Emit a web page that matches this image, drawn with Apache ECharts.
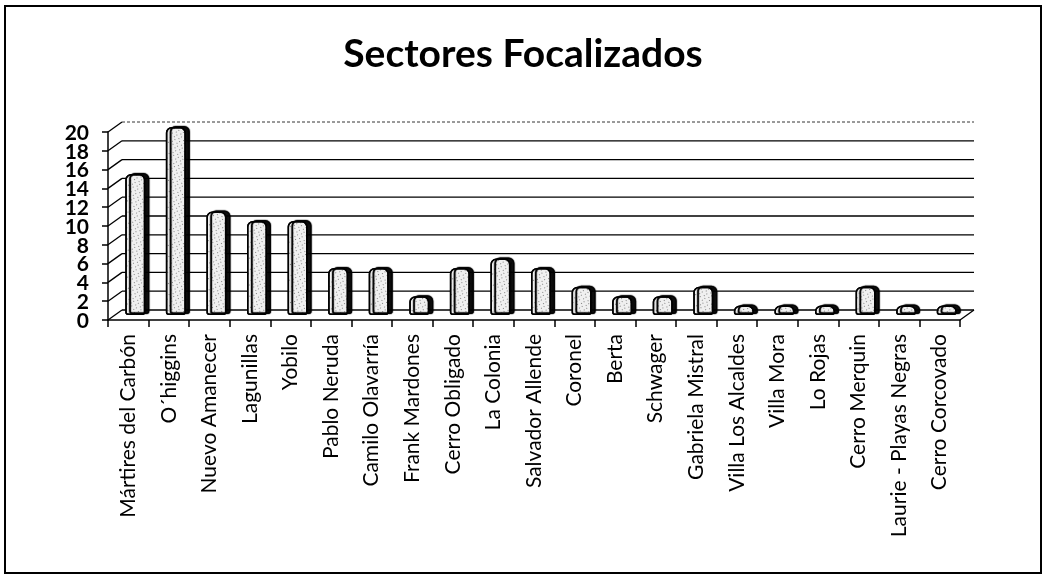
<!DOCTYPE html>
<html>
<head>
<meta charset="utf-8">
<script src="https://cdn.jsdelivr.net/npm/echarts@6/dist/echarts.min.js"></script>
<style>
  html, body { margin: 0; padding: 0; background: #ffffff; }
  #chart { width: 1046px; height: 575px; }
</style>
</head>
<body>
<div id="chart"></div>
<script>
const titleText = 'Sectores Focalizados';
const categories = [
  'Mártires del Carbón', 'O´higgins', 'Nuevo Amanecer', 'Lagunillas', 'Yobilo',
  'Pablo Neruda', 'Camilo Olavarría', 'Frank Mardones', 'Cerro Obligado', 'La Colonia',
  'Salvador Allende', 'Coronel', 'Berta', 'Schwager', 'Gabriela Mistral',
  'Villa Los Alcaldes', 'Villa Mora', 'Lo Rojas', 'Cerro Merquin', 'Laurie - Playas Negras',
  'Cerro Corcovado'
];
const values = [15, 20, 11, 10, 10, 5, 5, 2, 5, 6, 5, 3, 2, 2, 3, 1, 1, 1, 3, 1, 1];
const yTicks = [0, 2, 4, 6, 8, 10, 12, 14, 16, 18, 20];

const DX = 14, DY = -10; // depth offset of the back wall

const chart = echarts.init(document.getElementById('chart'), null, { renderer: 'canvas' });

const option = {
  backgroundColor: '#ffffff',
  animation: false,
  title: {
    text: titleText,
    left: 'center',
    top: 35,
    padding: 0,
    textStyle: { fontFamily: 'Lato', fontWeight: 'bold', fontSize: 39, color: '#000' }
  },
  graphic: [{
    type: 'rect',
    shape: { x: 5, y: 6, width: 1036, height: 567 },
    style: { fill: 'none', stroke: '#000', lineWidth: 2 },
    silent: true
  }],
  grid: [
    { left: 108, right: 86, top: 132, bottom: 255 },
    { left: 108 + DX / 2, right: 86 - DX / 2, top: 132 + DY / 2, bottom: 255 - DY / 2 }
  ],
  xAxis: [{
    type: 'category',
    gridIndex: 0,
    data: categories,
    axisLine: { show: true, lineStyle: { color: '#000', width: 1.5 } },
    axisTick: { show: true, length: 7, lineStyle: { color: '#000', width: 1.5 } },
    axisLabel: {
      interval: 0, rotate: 90, margin: 14,
      fontFamily: 'Lato', fontSize: 21, color: '#000'
    },
    splitLine: { show: false }
  }, {
    type: 'category',
    gridIndex: 1,
    data: categories,
    show: false
  }],
  yAxis: [{
    type: 'value',
    gridIndex: 0,
    min: 0, max: 20, interval: 2,
    axisLine: { show: true, lineStyle: { color: '#000', width: 1.5 } },
    axisTick: { show: true, length: 6, lineStyle: { color: '#000', width: 1.5 } },
    axisLabel: { show: false },
    splitLine: { show: false }
  }, {
    type: 'value',
    gridIndex: 1,
    min: 0, max: 20, interval: 2,
    show: false
  }],
  series: [{
    type: 'custom',
    xAxisIndex: 0,
    yAxisIndex: 0,
    clip: false,
    z: 1,
    silent: true,
    data: yTicks.map(v => [0, v]),
    renderItem: function (params, api) {
      const v = api.value(1);
      const p = api.coord([0, v]);
      const bw = api.size([1, 0])[0];
      const x0 = p[0] - bw / 2;
      const xEnd = x0 + bw * categories.length;
      const y = p[1];
      const children = [
        { type: 'line', shape: { x1: x0, y1: y, x2: x0 + DX, y2: y + DY },
          style: { stroke: '#000', lineWidth: 1.3 } },
        { type: 'line', shape: { x1: x0 + DX, y1: y + DY, x2: xEnd + DX, y2: y + DY },
          style: { stroke: '#000', lineWidth: v === 20 ? 0.8 : 1.3, lineDash: v === 20 ? [3, 2] : null } },
        { type: 'text', x: x0 - 19, y: y + 1,
          style: { text: String(v), align: 'right', verticalAlign: 'middle',
                   font: 'bold 21px Lato', fill: '#000' } }
      ];
      if (v === 0) {
        children.push({ type: 'line', shape: { x1: xEnd, y1: y, x2: xEnd + DX, y2: y + DY },
          style: { stroke: '#000', lineWidth: 1.3 } });
      }
      return { type: 'group', children: children };
    }
  }, {
    type: 'bar',
    xAxisIndex: 1,
    yAxisIndex: 1,
    z: 3,
    data: values,
    barWidth: 20,
    itemStyle: {
      color: '#f0f0f0',
      borderColor: '#000',
      borderWidth: 1.5,
      borderRadius: [5, 5, 2, 2],
      shadowColor: 'rgba(0,0,0,0.95)',
      shadowOffsetX: 4,
      shadowOffsetY: -1,
      shadowBlur: 1,
      decal: {
        symbol: 'rect',
        symbolSize: 1,
        dashArrayX: [1, 4],
        dashArrayY: [1, 4],
        rotation: 0.4,
        color: 'rgba(0,0,0,0.45)'
      }
    }
  }]
};

chart.setOption(option);
</script>
</body>
</html>
